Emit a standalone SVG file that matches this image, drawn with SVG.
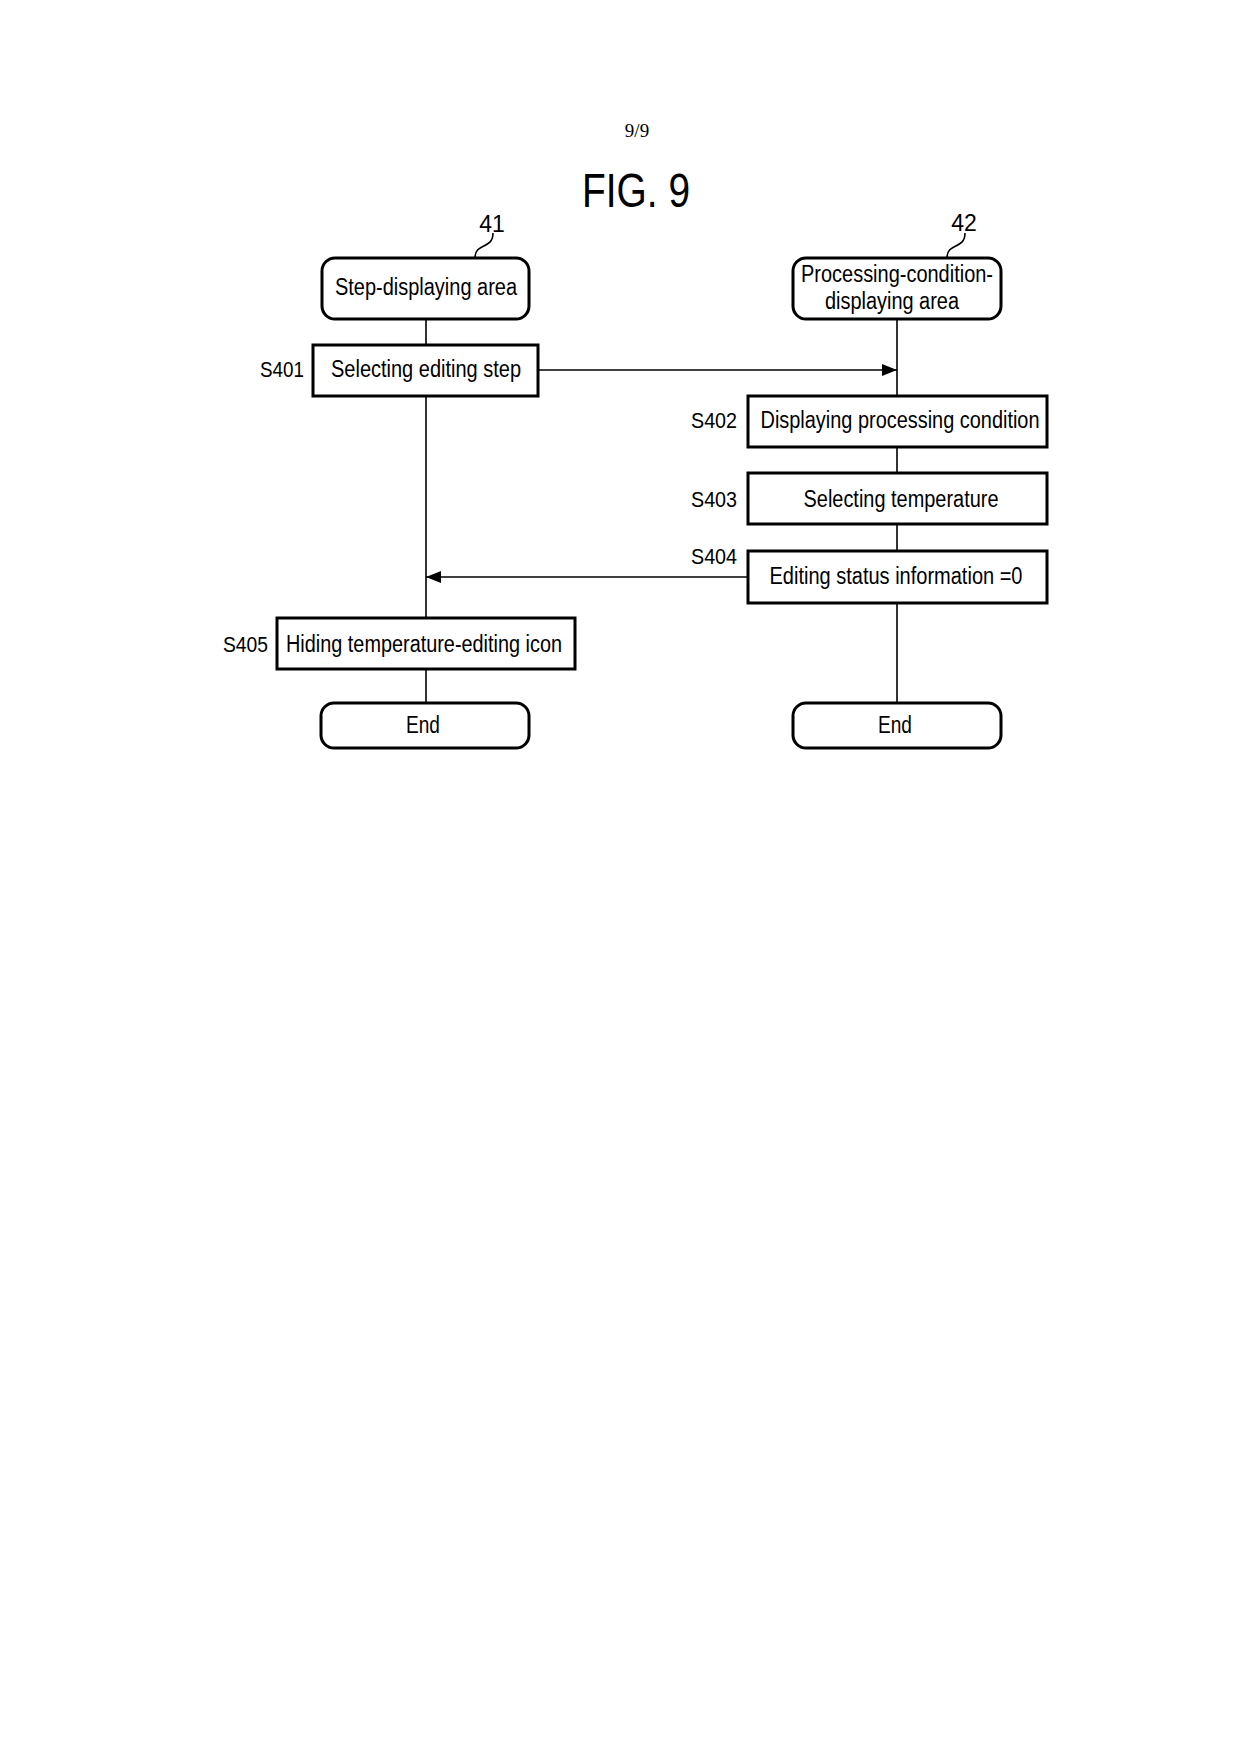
<svg xmlns="http://www.w3.org/2000/svg" width="1240" height="1754" viewBox="0 0 1240 1754">
<defs>
<style>
.t{font-family:"Liberation Sans",Arial,sans-serif;font-size:23px;fill:#000}
.lbl{font-family:"Liberation Sans",Arial,sans-serif;font-size:22px;fill:#000}
.box{fill:#fff;stroke:#000;stroke-width:3}
.ln{fill:none;stroke:#000;stroke-width:1.6}
</style>
<marker id="ah" markerWidth="15" markerHeight="12" refX="15" refY="6" orient="auto" markerUnits="userSpaceOnUse">
<path d="M0,0 L15,6 L0,12 Z" fill="#000"/>
</marker>
</defs>
<rect width="1240" height="1754" fill="#fff"/>
<text x="637" y="137" text-anchor="middle" font-family="'Liberation Serif','Times New Roman',serif" font-size="19">9/9</text>
<text x="636" y="207" text-anchor="middle" class="t" font-size="49" style="font-size:49px" textLength="108" lengthAdjust="spacingAndGlyphs">FIG. 9</text>

<g id="connectors">
<line class="ln" x1="426" y1="319" x2="426" y2="345"/>
<line class="ln" x1="426" y1="396" x2="426" y2="618"/>
<line class="ln" x1="426" y1="669" x2="426" y2="703"/>
<line class="ln" x1="897" y1="319" x2="897" y2="396"/>
<line class="ln" x1="897" y1="447" x2="897" y2="473"/>
<line class="ln" x1="897" y1="524" x2="897" y2="551"/>
<line class="ln" x1="897" y1="603" x2="897" y2="703"/>
<line class="ln" x1="538" y1="370" x2="897" y2="370" marker-end="url(#ah)"/>
<line class="ln" x1="748" y1="577" x2="426" y2="577" marker-end="url(#ah)"/>
<path class="ln" d="M493,233 C493,250 475,242 475,258"/>
<path class="ln" d="M965,233 C965,250 947,242 947,258"/>
</g>

<g id="ref41"><text class="t" x="492" y="232" text-anchor="middle">41</text></g>
<g id="ref42"><text class="t" x="964" y="231" text-anchor="middle">42</text></g>

<g id="step-area">
<rect class="box" x="322" y="258" width="207" height="61" rx="13"/>
<text class="t" x="426" y="295" text-anchor="middle" textLength="182" lengthAdjust="spacingAndGlyphs">Step-displaying area</text>
</g>
<g id="proc-area">
<rect class="box" x="793" y="258" width="208" height="61" rx="13"/>
<text class="t" x="897" y="282" text-anchor="middle" textLength="192" lengthAdjust="spacingAndGlyphs">Processing-condition-</text>
<text class="t" x="892" y="309" text-anchor="middle" textLength="134" lengthAdjust="spacingAndGlyphs">displaying area</text>
</g>
<g id="s401">
<rect class="box" x="313" y="345" width="225" height="51"/>
<text class="t" x="426" y="377" text-anchor="middle" textLength="190" lengthAdjust="spacingAndGlyphs">Selecting editing step</text>
<text class="lbl" x="304" y="377" text-anchor="end" textLength="44" lengthAdjust="spacingAndGlyphs">S401</text>
</g>
<g id="s402">
<rect class="box" x="748" y="396" width="299" height="51"/>
<text class="t" x="900" y="428" text-anchor="middle" textLength="279" lengthAdjust="spacingAndGlyphs">Displaying processing condition</text>
<text class="lbl" x="737" y="428" text-anchor="end" textLength="46" lengthAdjust="spacingAndGlyphs">S402</text>
</g>
<g id="s403">
<rect class="box" x="748" y="473" width="299" height="51"/>
<text class="t" x="901" y="507" text-anchor="middle" textLength="195" lengthAdjust="spacingAndGlyphs">Selecting temperature</text>
<text class="lbl" x="737" y="507" text-anchor="end" textLength="46" lengthAdjust="spacingAndGlyphs">S403</text>
</g>
<g id="s404">
<rect class="box" x="748" y="551" width="299" height="52"/>
<text class="t" x="896" y="584" text-anchor="middle" textLength="253" lengthAdjust="spacingAndGlyphs">Editing status information =0</text>
<text class="lbl" x="737" y="564" text-anchor="end" textLength="46" lengthAdjust="spacingAndGlyphs">S404</text>
</g>
<g id="s405">
<rect class="box" x="277" y="618" width="298" height="51"/>
<text class="t" x="424" y="652" text-anchor="middle" textLength="276" lengthAdjust="spacingAndGlyphs">Hiding temperature-editing icon</text>
<text class="lbl" x="268" y="652" text-anchor="end" textLength="45" lengthAdjust="spacingAndGlyphs">S405</text>
</g>
<g id="end-left">
<rect class="box" x="321" y="703" width="208" height="45" rx="13"/>
<text class="t" x="423" y="733" text-anchor="middle" textLength="34" lengthAdjust="spacingAndGlyphs">End</text>
</g>
<g id="end-right">
<rect class="box" x="793" y="703" width="208" height="45" rx="13"/>
<text class="t" x="895" y="733" text-anchor="middle" textLength="34" lengthAdjust="spacingAndGlyphs">End</text>
</g>
</svg>
